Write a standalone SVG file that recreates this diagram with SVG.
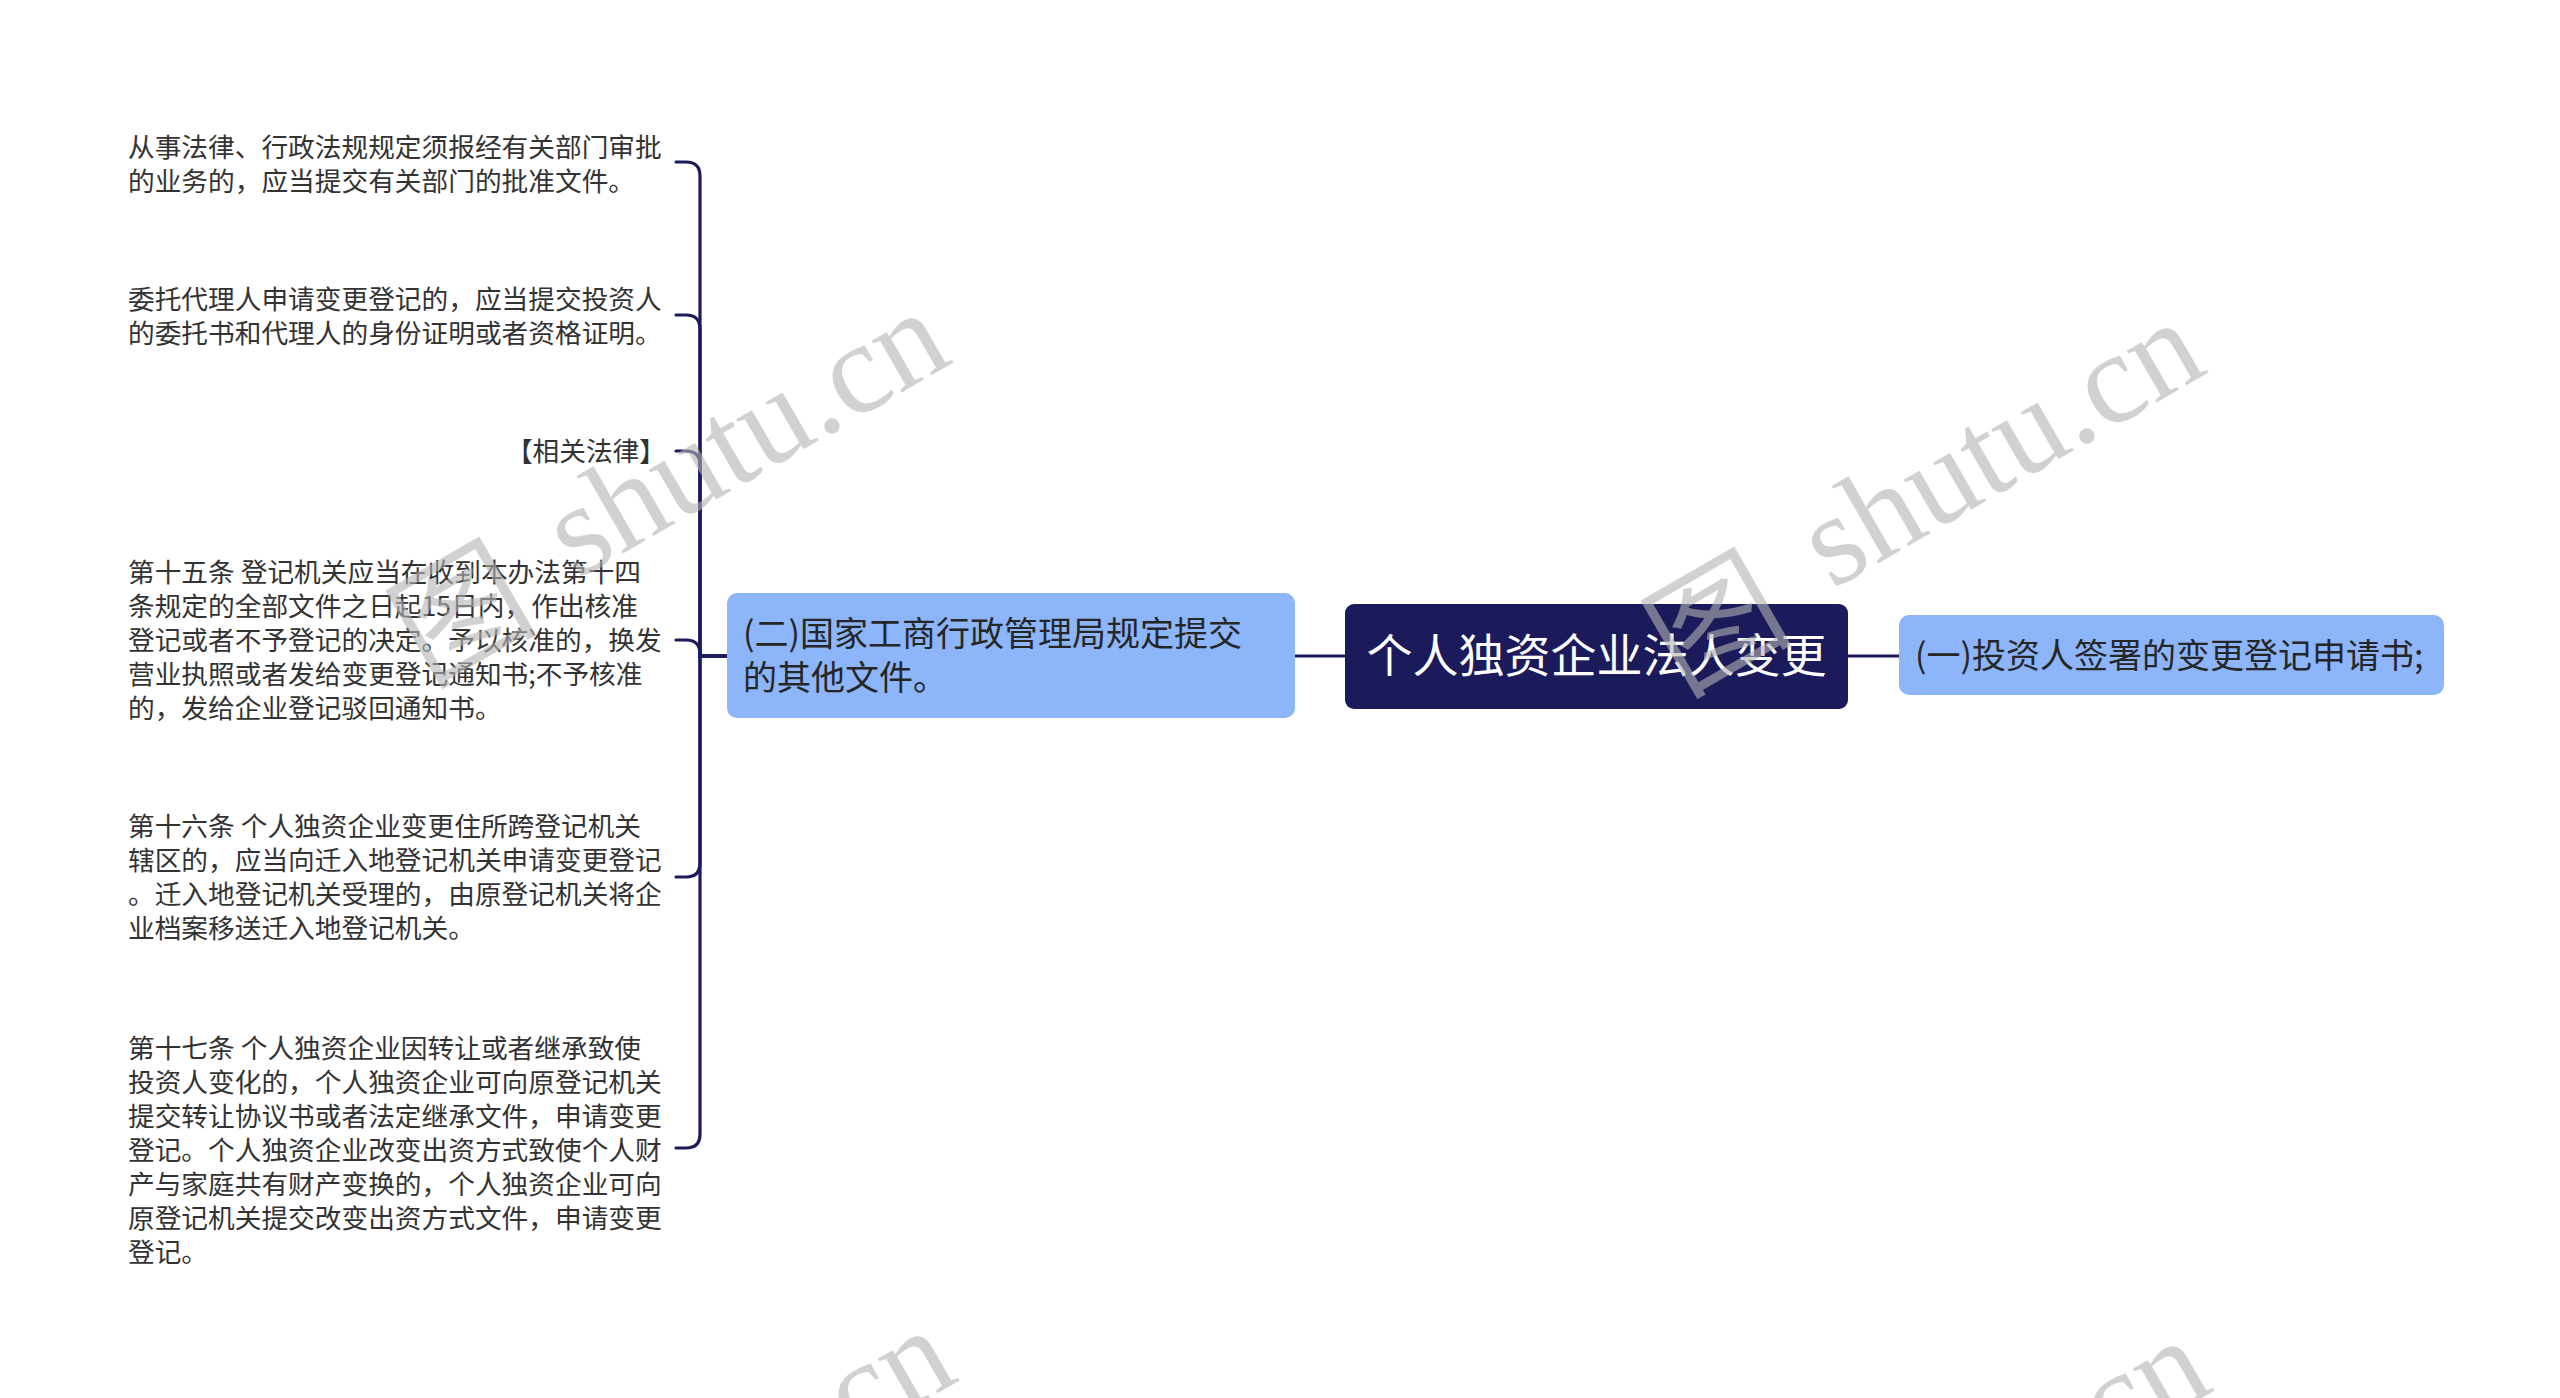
<svg xmlns="http://www.w3.org/2000/svg" width="2560" height="1398" viewBox="0 0 2560 1398">
<style>
.leaf{font-family:"Noto Sans CJK SC","Noto Sans",sans-serif;font-size:26.7px;fill:#333333}
.sub{font-family:"Noto Sans CJK SC","Noto Sans",sans-serif;font-size:34px;fill:#262626}
.root{font-family:"Noto Sans CJK SC","Noto Sans",sans-serif;font-size:46px;fill:#ffffff}
.conn{fill:none;stroke:#1b1a5b;stroke-width:3.2;stroke-linecap:round}
.subbox{fill:#8cb5fa}
.rootbox{fill:#1b1a5b}
.wm{font-family:"Liberation Serif","Noto Sans CJK SC",serif;font-size:130px;fill:#b4b4b4;opacity:0.6}
</style>
<defs>
<g id="wmark">
<text class="wm" x="110" y="17">图</text>
<text class="wm" x="292" y="0">shutu.cn</text>
</g>
</defs>
<rect width="2560" height="1398" fill="#ffffff"/>
<g id="connectors">
<path class="conn" d="M727,656 H700 V176 Q700,162 686,162 H676"/>
<path class="conn" d="M727,656 H700 V329 Q700,315 686,315 H676"/>
<path class="conn" d="M727,656 H700 V465 Q700,451 686,451 H676"/>
<path class="conn" d="M727,656 H700 V654 Q700,640 686,640 H676"/>
<path class="conn" d="M727,656 H700 V863 Q700,877 686,877 H676"/>
<path class="conn" d="M727,656 H700 V1134 Q700,1148 686,1148 H676"/>
<path class="conn" d="M1295,656 H1345"/>
<path class="conn" d="M1848,656 H1899"/>
</g>
<g id="root">
<rect class="rootbox" x="1345" y="604" width="503" height="105" rx="9"/>
<text class="root" x="1596.5" y="672" text-anchor="middle">个人独资企业法人变更</text>
</g>
<g id="node-1">
<rect class="subbox" x="1899" y="615" width="545" height="80" rx="10"/>
<text class="sub" x="1915" y="668">(一)投资人签署的变更登记申请书;</text>
</g>
<g id="node-2">
<rect class="subbox" x="727" y="593" width="568" height="125" rx="10"/>
<text class="sub" x="743" y="646">(二)国家工商行政管理局规定提交</text>
<text class="sub" x="743" y="690">的其他文件。</text>
</g>
<g id="leaf-1">
<text class="leaf" x="128" y="156.5">从事法律、行政法规规定须报经有关部门审批</text>
<text class="leaf" x="128" y="190.5">的业务的，应当提交有关部门的批准文件。</text>
</g>
<g id="leaf-2">
<text class="leaf" x="128" y="308.5">委托代理人申请变更登记的，应当提交投资人</text>
<text class="leaf" x="128" y="342.5">的委托书和代理人的身份证明或者资格证明。</text>
</g>
<g id="leaf-3">
<text class="leaf" x="666" y="460.5" text-anchor="end">【相关法律】</text>
</g>
<g id="leaf-4">
<text class="leaf" x="128" y="581.5">第十五条 登记机关应当在收到本办法第十四</text>
<text class="leaf" x="128" y="615.5">条规定的全部文件之日起15日内，作出核准</text>
<text class="leaf" x="128" y="649.5">登记或者不予登记的决定。予以核准的，换发</text>
<text class="leaf" x="128" y="683.5">营业执照或者发给变更登记通知书;不予核准</text>
<text class="leaf" x="128" y="717.5">的，发给企业登记驳回通知书。</text>
</g>
<g id="leaf-5">
<text class="leaf" x="128" y="835.5">第十六条 个人独资企业变更住所跨登记机关</text>
<text class="leaf" x="128" y="869.5">辖区的，应当向迁入地登记机关申请变更登记</text>
<text class="leaf" x="128" y="903.5">。迁入地登记机关受理的，由原登记机关将企</text>
<text class="leaf" x="128" y="937.5">业档案移送迁入地登记机关。</text>
</g>
<g id="leaf-6">
<text class="leaf" x="128" y="1057.5">第十七条 个人独资企业因转让或者继承致使</text>
<text class="leaf" x="128" y="1091.5">投资人变化的，个人独资企业可向原登记机关</text>
<text class="leaf" x="128" y="1125.5">提交转让协议书或者法定继承文件，申请变更</text>
<text class="leaf" x="128" y="1159.5">登记。个人独资企业改变出资方式致使个人财</text>
<text class="leaf" x="128" y="1193.5">产与家庭共有财产变换的，个人独资企业可向</text>
<text class="leaf" x="128" y="1227.5">原登记机关提交改变出资方式文件，申请变更</text>
<text class="leaf" x="128" y="1261.5">登记。</text>
</g>
<g id="watermarks">
<use href="#wmark" transform="translate(324,726) rotate(-30)"/>
<use href="#wmark" transform="translate(1579,736) rotate(-30)"/>
<use href="#wmark" transform="translate(330,1744) rotate(-30)"/>
<use href="#wmark" transform="translate(1585,1754) rotate(-30)"/>
</g>
</svg>
